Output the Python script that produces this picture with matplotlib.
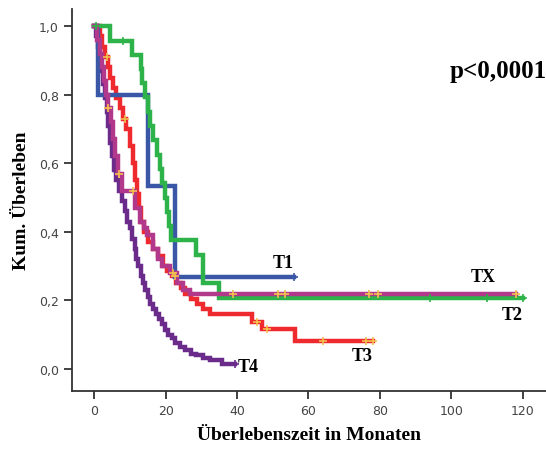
import numpy as np
import matplotlib
matplotlib.use("Agg")
import matplotlib.pyplot as plt

# Kaplan-Meier step data (months, cumulative survival)
t1_t = [0, 1.0, 15.0, 22.5]
t1_s = [1.0, 0.80, 0.533, 0.267]
t1_end = 56
t1_cens = [56]

t2_t = [0, 4.5, 10.6, 13.0, 13.5, 14.3, 15.0, 15.5, 16.5, 17.5, 18.3, 19.0, 19.8, 20.5, 21.0, 21.5, 28.5, 30.5, 35.0]
t2_s = [1.0, .958, .917, .875, .833, .792, .75, .708, .667, .625, .583, .542, .50, .458, .417, .375, .333, .25, .208]
t2_end = 120
t2_cens = [0.5, 8, 94, 110, 120]

t3_t = [0, 1.5, 2.3, 3.0, 3.8, 4.5, 5.3, 6.2, 7.2, 8.1, 9.0, 10.0, 10.8, 11.5, 12.0, 12.5, 13.0, 14.0,
        15.0, 16.5, 18.0, 19.3, 20.5, 21.8, 23.0, 24.2, 25.5, 27.0, 28.8, 30.5, 32.4, 44.2, 47.0, 56.2]
t3_s = [1.0, .97, .94, .91, .88, .85, .82, .79, .76, .73, .70, .65, .60, .55, .51, .47, .43, .40,
        .37, .35, .33, .30, .285, .27, .25, .235, .22, .205, .19, .175, .16, .137, .117, .082]
t3_end = 78
t3_cens = [3.5, 8.5, 22.5, 45.5, 48.5, 64, 76, 78]

tx_t = [0, 0.8, 1.5, 2.2, 2.8, 3.4, 4.0, 4.6, 5.3, 5.9, 6.7, 7.8, 11.5, 12.9, 14.0, 14.8, 16.5, 17.8,
        19.0, 21.3, 23.2, 24.9, 26.9]
tx_s = [1.0, .96, .92, .88, .84, .80, .76, .72, .67, .62, .57, .52, .47, .43, .41, .39, .35, .32,
        .30, .28, .25, .23, .22]
tx_end = 118
tx_cens = [4, 7, 11, 22, 39, 51.5, 53.5, 77, 79.5, 118]

t4_t = [0, 0.5, 1.0, 1.5, 2.0, 2.5, 3.0, 3.5, 4.0, 4.5, 5.0, 5.5, 6.2, 7.0, 7.8, 8.5, 9.2, 10.0, 10.7, 11.3,
        11.8, 12.4, 13.0, 13.7, 14.3, 15.0, 15.7, 16.5, 17.3, 18.2, 19.0, 19.8, 20.7, 21.7, 22.7, 24.0,
        25.5, 27.0, 28.5, 30.5, 32.4, 35.8]
t4_s = [1.0, .97, .94, .90, .87, .83, .79, .75, .71, .66, .62, .58, .55, .52, .49, .46, .43, .41, .38, .35,
        .32, .30, .27, .25, .23, .21, .19, .175, .16, .145, .13, .115, .10, .09, .075, .065,
        .055, .045, .04, .032, .025, .015]
t4_end = 39.4
t4_cens = [39.4]

xticks = [0, 20, 40, 60, 80, 100, 120]
yticks = [0.0, 0.2, 0.4, 0.6, 0.8, 1.0]
ytick_labels = ["0,0", "0,2", "0,4", "0,6", "0,8", "1,0"]

serif = "Liberation Serif"

fig = plt.figure(figsize=(5.46, 4.52), dpi=100)
ax = fig.add_axes([72 / 546, 1 - 392 / 452, 1 - 72 / 546, 382 / 452])


def km(t, s, end, cens, color, cens_color):
    tt = list(t) + [end]
    ss = list(s) + [s[-1]]
    ax.step(tt, ss, where="post", color=color, lw=3.2, solid_joinstyle="miter")
    # censor marks sit on the curve
    idx = np.searchsorted(t, cens, side="right") - 1
    cy = np.array(s)[idx]
    ax.plot(cens, cy, ls="none", marker="+", ms=6, mew=1.2, color=cens_color, zorder=5)


km(t4_t, t4_s, t4_end, t4_cens, "#6a2b8b", "#6a2b8b")
km(t3_t, t3_s, t3_end, t3_cens, "#ee2a2e", "#f2c14e")
km(t1_t, t1_s, t1_end, t1_cens, "#3a56a6", "#3a56a6")
km(t2_t, t2_s, t2_end, t2_cens, "#2db34a", "#2db34a")
km(tx_t, tx_s, tx_end, tx_cens, "#b2388c", "#f2c14e")

ax.set_xlim(-6.2, 126.5)
ax.set_ylim(-0.064, 1.05)
ax.set_xticks(xticks)
ax.set_yticks(yticks)
ax.set_yticklabels(ytick_labels)
for sp in ["top", "right"]:
    ax.spines[sp].set_visible(False)
for sp in ["left", "bottom"]:
    ax.spines[sp].set_linewidth(1.3)
    ax.spines[sp].set_color("#333333")
ax.tick_params(direction="out", length=6, width=1.3, color="#333333",
               labelsize=9, labelcolor="#444444")

ax.set_xlabel("Überlebenszeit in Monaten", family=serif, fontweight="bold", fontsize=14, labelpad=6)
ax.set_ylabel("Kum. Überleben", family=serif, fontweight="bold", fontsize=14, labelpad=6)

lab = dict(family=serif, fontweight="bold", fontsize=13, ha="center", va="center")
ax.text(53, 0.31, "T1", **lab)
ax.text(109, 0.27, "TX", **lab)
ax.text(117, 0.158, "T2", **lab)
ax.text(75, 0.04, "T3", **lab)
ax.text(43, 0.008, "T4", **lab)
ax.text(113, 0.87, "p<0,0001", family=serif, fontweight="bold", fontsize=18, ha="center", va="center")

fig.savefig("out.png", dpi=100)
